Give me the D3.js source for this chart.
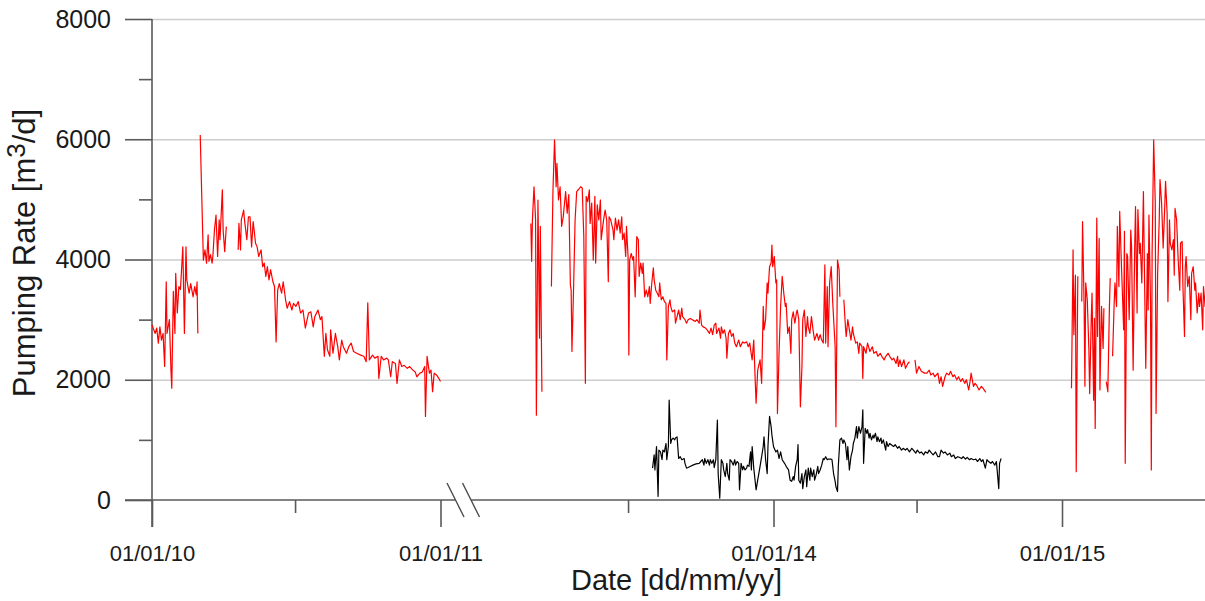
<!DOCTYPE html>
<html>
<head>
<meta charset="utf-8">
<script src="https://cdn.jsdelivr.net/npm/d3@7"></script>
<style>
    body { margin: 0; background: #fff; }
    text { font-family: "Liberation Sans", Arial, sans-serif; fill: #1a1a1a; }
</style>
</head>
<body>
<div id="chart"></div>
<script>
// pumping rate readings, [day offset from start date, m3/d]; null = gap in record
let redAStart = '2010-01-01';
let redA = [[0,2910],[4,2770],[6,2860],[8,2610],[10,2880],[12,2660],[14,2770],[16,2220],[18,3630],[19,2770],[22,3000],[24,2160],[25,1860],[27,3470],[29,2770],[30,3770],[32,3110],[34,3550],[36,3500],[39,4210],[41,2770],[43,4210],[44,3660],[47,3440],[49,3600],[52,3380],[54,3550],[56,3410],[57,3630],[58,2770],[59,null],
    [61,6070],[65,3990],[67,4160],[69,3940],[71,4410],[72,3970],[74,4080],[76,3940],[77,4050],[79,4490],[81,4740],[83,4050],[85,4660],[86,4330],[89,5160],[90,4490],[92,4130],[94,4550],[100,null],
    [109,4160],[110,4600],[112,4160],[113,4660],[116,4820],[117,4660],[120,4330],[122,4710],[124,4710],[126,4210],[128,4630],[131,4270],[133,4210],[135,4050],[138,4160],[140,3880],[142,3940],[144,3720],[146,3880],[148,3660],[150,3830],[153,3630],[155,3550],[157,2630],[159,3490],[161,3600],[164,3440],[166,3630],[169,3330],[171,3190],[174,3300],[177,3160],[179,3270],[182,3220],[185,3300],[188,3110],[191,3160],[194,2860],[198,3110],[201,3130],[204,2880],[206,3050],[210,3160],[213,3000],[215,3050],[218,2390],[220,2770],[222,2500],[225,2390],[226,2830],[229,2440],[232,2770],[235,2550],[237,2330],[240,2660],[242,2550],[246,2440],[249,2550],[252,2610],[255,2470],[259,2440],[264,2410],[268,2390],[271,2300],[273,3280],[275,2330],[279,2410],[282,2360],[286,2390],[287,2020],[290,2390],[293,2330],[297,2360],[299,2330],[302,2050],[304,2300],[308,2270],[310,1940],[313,2330],[316,2220],[319,2240],[323,2190],[326,2220],[330,2160],[333,2130],[335,2050],[339,2110],[342,2130],[345,2220],[346,1390],[348,2390],[351,2110],[353,2160],[355,1800],[357,2110],[360,2080],[363,2020],[365,1970]];

let redBStart = '2013-01-01';
let redB = [[58,4600],[59,3970],[60,4660],[62,5210],[64,4660],[65,1410],[67,4990],[69,2690],[70,4550],[72,1800],[80,null],
    [84,3550],[86,5160],[88,5990],[90,5210],[91,5600],[93,4990],[95,5210],[97,4550],[99,4710],[102,5130],[104,4770],[106,5080],[108,3580],[109,3490],[110,2470],[112,3490],[114,4660],[116,5130],[118,5160],[121,5210],[123,5190],[125,4380],[127,1940],[128,5050],[130,4960],[132,5160],[133,4600],[135,4940],[137,3990],[139,5050],[140,3940],[142,4910],[144,4660],[146,4990],[147,4330],[150,4660],[152,4820],[154,4660],[156,3630],[157,4710],[159,4660],[162,4490],[163,4330],[165,4690],[167,4490],[169,4660],[171,4440],[173,4710],[174,4330],[176,4440],[178,4050],[179,4550],[181,4050],[182,2410],[183,3990],[185,4100],[187,3990],[188,4050],[190,3380],[192,4380],[194,4330],[195,3720],[197,3940],[199,3770],[200,3940],[202,3380],[204,3490],[206,3380],[208,3550],[209,3270],[211,3610],[213,3860],[214,3660],[216,3490],[218,3440],[220,3380],[221,3610],[223,3330],[225,3380],[227,3300],[229,3270],[230,2330],[232,3220],[234,3330],[235,3220],[237,3130],[240,3160],[241,2940],[243,3050],[245,3160],[247,3000],[249,3190],[250,3050],[253,3000],[255,2940],[257,3000],[260,3020],[262,3000],[266,2970],[268,3000],[271,2940],[272,3160],[274,2910],[276,2880],[279,2860],[281,2830],[284,2770],[286,2860],[288,2750],[290,2910],[292,2940],[293,2770],[296,2860],[298,2690],[299,2880],[301,2770],[303,2830],[305,2690],[306,2360],[308,2770],[310,2830],[312,2720],[314,2770],[316,2610],[318,2550],[321,2660],[323,2550],[326,2630],[328,2610],[331,2630],[333,2550],[335,2610],[336,2500],[338,2330],[340,2660],[342,1940],[343,1610],[345,2160],[348,2330],[350,1940],[352,3220],[353,2830],[355,3000],[357,3610],[358,3440],[360,3880],[362,3940],[363,4240],[364,3880],[366,4050],[368,3610],[369,3660],[370,1440],[372,2440],[374,3220],[376,3720],[378,3440],[380,3220],[381,3270],[383,2770],[385,2880],[387,2440],[388,3000],[390,3130],[392,2940],[394,3110],[395,3160],[397,3000],[399,1550],[401,2220],[402,3000],[404,3160],[406,2720],[408,3050],[409,2880],[411,2770],[413,3050],[415,2830],[417,2660],[420,2770],[422,2660],
    [424,2750],[426,2660],[428,2610],[430,3910],[431,2610],[433,3550],[434,2550],[436,3610],[438,3880],[440,3270],[443,2550],[444,1220],[446,3990],[448,3830],[449,3380],[451,null],
    [454,3330],[456,2880],[457,2720],[459,3000],[461,2830],[463,2660],[465,2880],[466,2770],[469,2610],[471,2630],[473,2440],[474,2610],[477,2550],[478,2020],[479,2550],[482,2440],[484,2610],[487,2470],[490,2550],[492,2440],[495,2470],[497,2390],[500,2440],[502,2390],[505,2330],[507,2390],[510,2440],[512,2390],[515,2330],[517,2360],[520,2270],[522,2390],[523,2220],[525,2330],[527,2220],[530,2330],[532,2190],[535,2270],[537,2300],[540,null],
    [544,2330],[546,2110],[549,2220],[552,2140],[556,2110],[559,2110],[562,2160],[564,2080],[567,2110],[569,2050],[573,2110],[575,1940],[577,2050],[579,1890],[582,2050],[584,2110],[587,2080],[589,2140],[592,2050],[594,2080],[597,2000],[599,2050],[602,1970],[604,2020],[607,1940],[609,2000],[612,1830],[614,2000],[615,2110],[618,1890],[620,1940],[622,1910],[625,1830],[628,1890],[630,1860],[633,1800],[634,1800]];

let redCStart = '2015-01-01';
let redC = [[12,1860],[14,4160],[15,2750],[17,3740],[18,470],[20,3720],[22,null],
    [25,3300],[26,4630],[28,3220],[29,1890],[30,3610],[32,3330],[34,2500],[35,1770],[37,3000],[38,3440],[40,1660],[41,3020],[42,1190],[44,4690],[45,2720],[47,4350],[48,1830],[50,3220],[52,2520],[53,3190],[55,null],
    [56,1970],[58,1800],[60,3220],[61,3690],[62,null],
    [64,2390],[66,3270],[67,3610],[69,3220],[70,4550],[72,3550],[73,4800],[75,3990],[77,3220],[78,2830],[79,4470],[80,610],[82,4100],[83,4050],[85,3000],[87,4490],[88,4220],[90,2160],[92,4220],[93,4880],[95,3110],[96,4830],[98,4100],[99,4270],[101,3610],[103,5130],[104,4100],[106,2190],[108,4100],[109,3160],[110,4740],[112,3270],[113,500],[114,4100],[116,5990],[118,4940],[119,1440],[121,3770],[123,4660],[124,5330],[126,4940],[128,4190],[130,4880],[131,5300],[133,4770],[134,3300],[136,4660],[137,4270],[139,4160],[141,4330],[142,3740],[143,4850],[145,4660],[147,3990],[149,3490],[150,4270],[152,4300],[153,3550],[155,2720],[156,3880],[157,4050],[159,3550],[161,3720],[163,3000],[164,3770],[166,3880],[168,3490],[169,3610],[171,3110],[173,3440],[174,3220],[176,3440],[178,2830],[179,3550],[181,3220],[182,3550]];

let blackStart = '2013-01-01';
let black = [[212,530],[214,750],[215,500],[217,890],[219,60],[220,830],[222,800],[224,670],[225,830],[227,800],[229,940],[230,670],[232,890],[233,1660],[235,940],[236,1000],[238,1030],[240,1000],[241,1030],[243,1050],[245,690],[247,720],[249,670],[252,690],[253,610],[255,530],[257,540],[260,560],[263,580],[267,600],[271,610],[273,640],[275,670],[277,580],[278,690],[280,610],[282,670],[284,580],[285,670],[287,610],[289,670],[290,540],[292,670],[294,1330],[295,440],[297,30],[299,670],[301,610],[302,500],[304,390],[306,610],[307,440],[309,330],[310,670],[312,640],[314,580],[316,670],[317,580],[319,640],[321,610],[322,170],[324,610],[326,500],[327,560],[329,500],[331,530],[332,580],[334,560],[336,800],[337,500],[338,890],[340,530],[343,170],[345,330],[348,560],[350,720],[352,890],[353,1050],[355,670],[357,440],[358,890],[360,1390],[362,1220],[363,1080],[365,890],[368,800],[370,830],[372,690],[374,800],[376,670],[379,610],[381,560],[384,500],[386,330],[388,310],[390,390],[391,330],[393,560],[395,670],[396,920],[397,330],[399,280],[401,440],[402,190],[404,390],[406,500],[407,220],[409,530],[411,330],[412,530],[414,390],[416,500],[417,330],[419,420],[421,560],[422,440],[424,500],[426,580],[428,690],[429,670],[431,720],[433,670],[434,680],[438,680],[439,670],[441,440],[443,310],[444,220],[446,140],[447,560],[449,1000],[451,1030],[453,940],[454,1000],[456,940],[458,670],[459,890],[461,500],[463,720],[465,830],[466,940],[468,1030],[470,1220],[471,1030],[473,1220],[475,1110],[477,1220],[478,1500],[479,610],[481,1190],[483,1110],[484,1170],[486,1030],[487,1110],[489,1000],[491,1080],[492,1030],[494,1110],[496,970],[497,1050],[499,970],[501,1030],[502,940],[504,1000],[507,830],[508,970],[510,890],[512,940],[514,920],[517,890],[519,920],[522,860],[524,890],[527,830],[529,860],[532,830],[534,860],[537,800],[540,860],[542,830],[545,780],[547,830],[550,780],[552,800],[555,750],[557,800],[560,780],[562,830],[565,780],[567,750],[570,800],[573,720],[575,720],[577,830],[580,780],[582,800],[585,750],[588,780],[590,720],[593,750],[595,690],[598,720],[600,710],[603,690],[605,720],[608,680],[610,710],[613,670],[615,690],[618,670],[621,680],[623,640],[626,690],[628,640],[630,670],[633,530],[635,670],[637,640],[640,610],[642,640],[645,580],[647,640],[650,190],[651,610],[653,690]];

// axis ticks
let yMajor = [0, 2000, 4000, 6000, 8000];
let yMinor = [1000, 3000, 5000, 7000];
let yGrid = [2000, 4000, 6000, 8000];
let xLeftMajor = ['2010-01-01', '2011-01-01'];
let xLeftMinor = ['2010-07-01'];
let xRightMajor = ['2014-01-01', '2015-01-01'];
let xRightMinor = ['2013-07-01', '2014-07-01'];

let width = 1205;
let height = 601;
let parse = d3.timeParse('%Y-%m-%d');
let fmt = d3.timeFormat('%d/%m/%y');
let axisColor = '#5a5a5a';

window.onload = function () {
    let svg = d3.select('#chart')
        .append('svg')
        .attr('width', width)
        .attr('height', height);

    let y = d3.scaleLinear().domain([0, 8000]).range([500, 19]);
    let xLeft = d3.scaleTime().domain([parse('2010-01-01'), parse('2011-01-01')]).range([152, 440.5]);
    let xRight = d3.scaleTime().domain([parse('2013-01-01'), parse('2015-01-01')]).range([485, 1062]);

    let x0 = xLeft.range()[0];
    let y0 = y(0);

    // gridlines
    let grid = svg.append('g')
        .attr('transform', 'translate(' + x0 + ',0)')
        .call(d3.axisLeft(y).tickValues(yGrid).tickSize(-(width - x0)).tickFormat(''));
    grid.select('.domain').remove();
    grid.selectAll('line').attr('stroke', '#cdcdcd').attr('stroke-width', 1.6);

    // y axis
    let yAx = svg.append('g')
        .attr('transform', 'translate(' + x0 + ',0)')
        .call(d3.axisLeft(y).tickValues(yMajor).tickSize(27).tickPadding(14).tickFormat(d3.format('d')));
    yAx.select('.domain').remove();
    yAx.selectAll('line').attr('stroke', axisColor).attr('stroke-width', 1.6);
    yAx.selectAll('text').style('font-size', '25px').style('font-family', '"Liberation Sans", Arial, sans-serif').attr('fill', '#1a1a1a');

    let yMin = svg.append('g')
        .attr('transform', 'translate(' + x0 + ',0)')
        .call(d3.axisLeft(y).tickValues(yMinor).tickSize(13).tickFormat(''));
    yMin.select('.domain').remove();
    yMin.selectAll('line').attr('stroke', axisColor).attr('stroke-width', 1.6);

    svg.append('line')
        .attr('x1', x0).attr('x2', x0)
        .attr('y1', y(8000)).attr('y2', y0 + 27)
        .attr('stroke', axisColor).attr('stroke-width', 1.6);

    // x axis, broken between the two panels
    function xAxis(scale, major, minor) {
        let g = svg.append('g').attr('transform', 'translate(0,' + y0 + ')');
        g.call(d3.axisBottom(scale).tickValues(major.map(parse)).tickSize(27).tickPadding(18).tickFormat(fmt));
        g.select('.domain').remove();
        g.selectAll('line').attr('stroke', axisColor).attr('stroke-width', 1.6);
        g.selectAll('text').style('font-size', '22px').style('font-family', '"Liberation Sans", Arial, sans-serif').attr('fill', '#1a1a1a');
        let m = svg.append('g').attr('transform', 'translate(0,' + y0 + ')');
        m.call(d3.axisBottom(scale).tickValues(minor.map(parse)).tickSize(13).tickFormat(''));
        m.select('.domain').remove();
        m.selectAll('line').attr('stroke', axisColor).attr('stroke-width', 1.6);
    }
    xAxis(xLeft, xLeftMajor, xLeftMinor);
    xAxis(xRight, xRightMajor, xRightMinor);

    let breakA = xLeft.range()[1] + 15;
    let breakB = breakA + 15.5;
    svg.append('line')
        .attr('x1', x0 - 27).attr('x2', breakA)
        .attr('y1', y0).attr('y2', y0)
        .attr('stroke', axisColor).attr('stroke-width', 1.6);
    svg.append('line')
        .attr('x1', breakB).attr('x2', width)
        .attr('y1', y0).attr('y2', y0)
        .attr('stroke', axisColor).attr('stroke-width', 1.6);
    for (let bx of [breakA, breakB]) {
        svg.append('line')
            .attr('x1', bx - 8.5).attr('x2', bx + 8.5)
            .attr('y1', y0 - 17).attr('y2', y0 + 17)
            .attr('stroke', '#4a4a4a').attr('stroke-width', 1.4);
    }

    // series
    let series = [
        {data: redA, start: redAStart, x: xLeft, color: '#ff0000'},
        {data: redB, start: redBStart, x: xRight, color: '#ff0000'},
        {data: redC, start: redCStart, x: xRight, color: '#ff0000'},
        {data: black, start: blackStart, x: xRight, color: '#000000'}
    ];
    for (let s of series) {
        let t0 = parse(s.start);
        let line = d3.line()
            .defined(d => d[1] !== null)
            .x(d => s.x(d3.timeDay.offset(t0, d[0])))
            .y(d => y(d[1]));
        svg.append('path')
            .datum(s.data)
            .attr('d', line)
            .attr('fill', 'none')
            .attr('stroke', s.color)
            .attr('stroke-width', 1.2)
            .attr('stroke-linejoin', 'round');
    }

    // axis titles
    svg.append('text')
        .attr('x', 676.5)
        .attr('y', 590)
        .attr('text-anchor', 'middle')
        .style('font-size', '29px')
        .text('Date [dd/mm/yy]');

    let yt = svg.append('text')
        .attr('transform', 'translate(35,253) rotate(-90)')
        .attr('text-anchor', 'middle')
        .style('font-size', '31px');
    yt.append('tspan').text('Pumping Rate [m');
    yt.append('tspan').attr('dy', -10).style('font-size', '26px').text('3');
    yt.append('tspan').attr('dy', 10).text('/d]');
};
</script>
</body>
</html>
